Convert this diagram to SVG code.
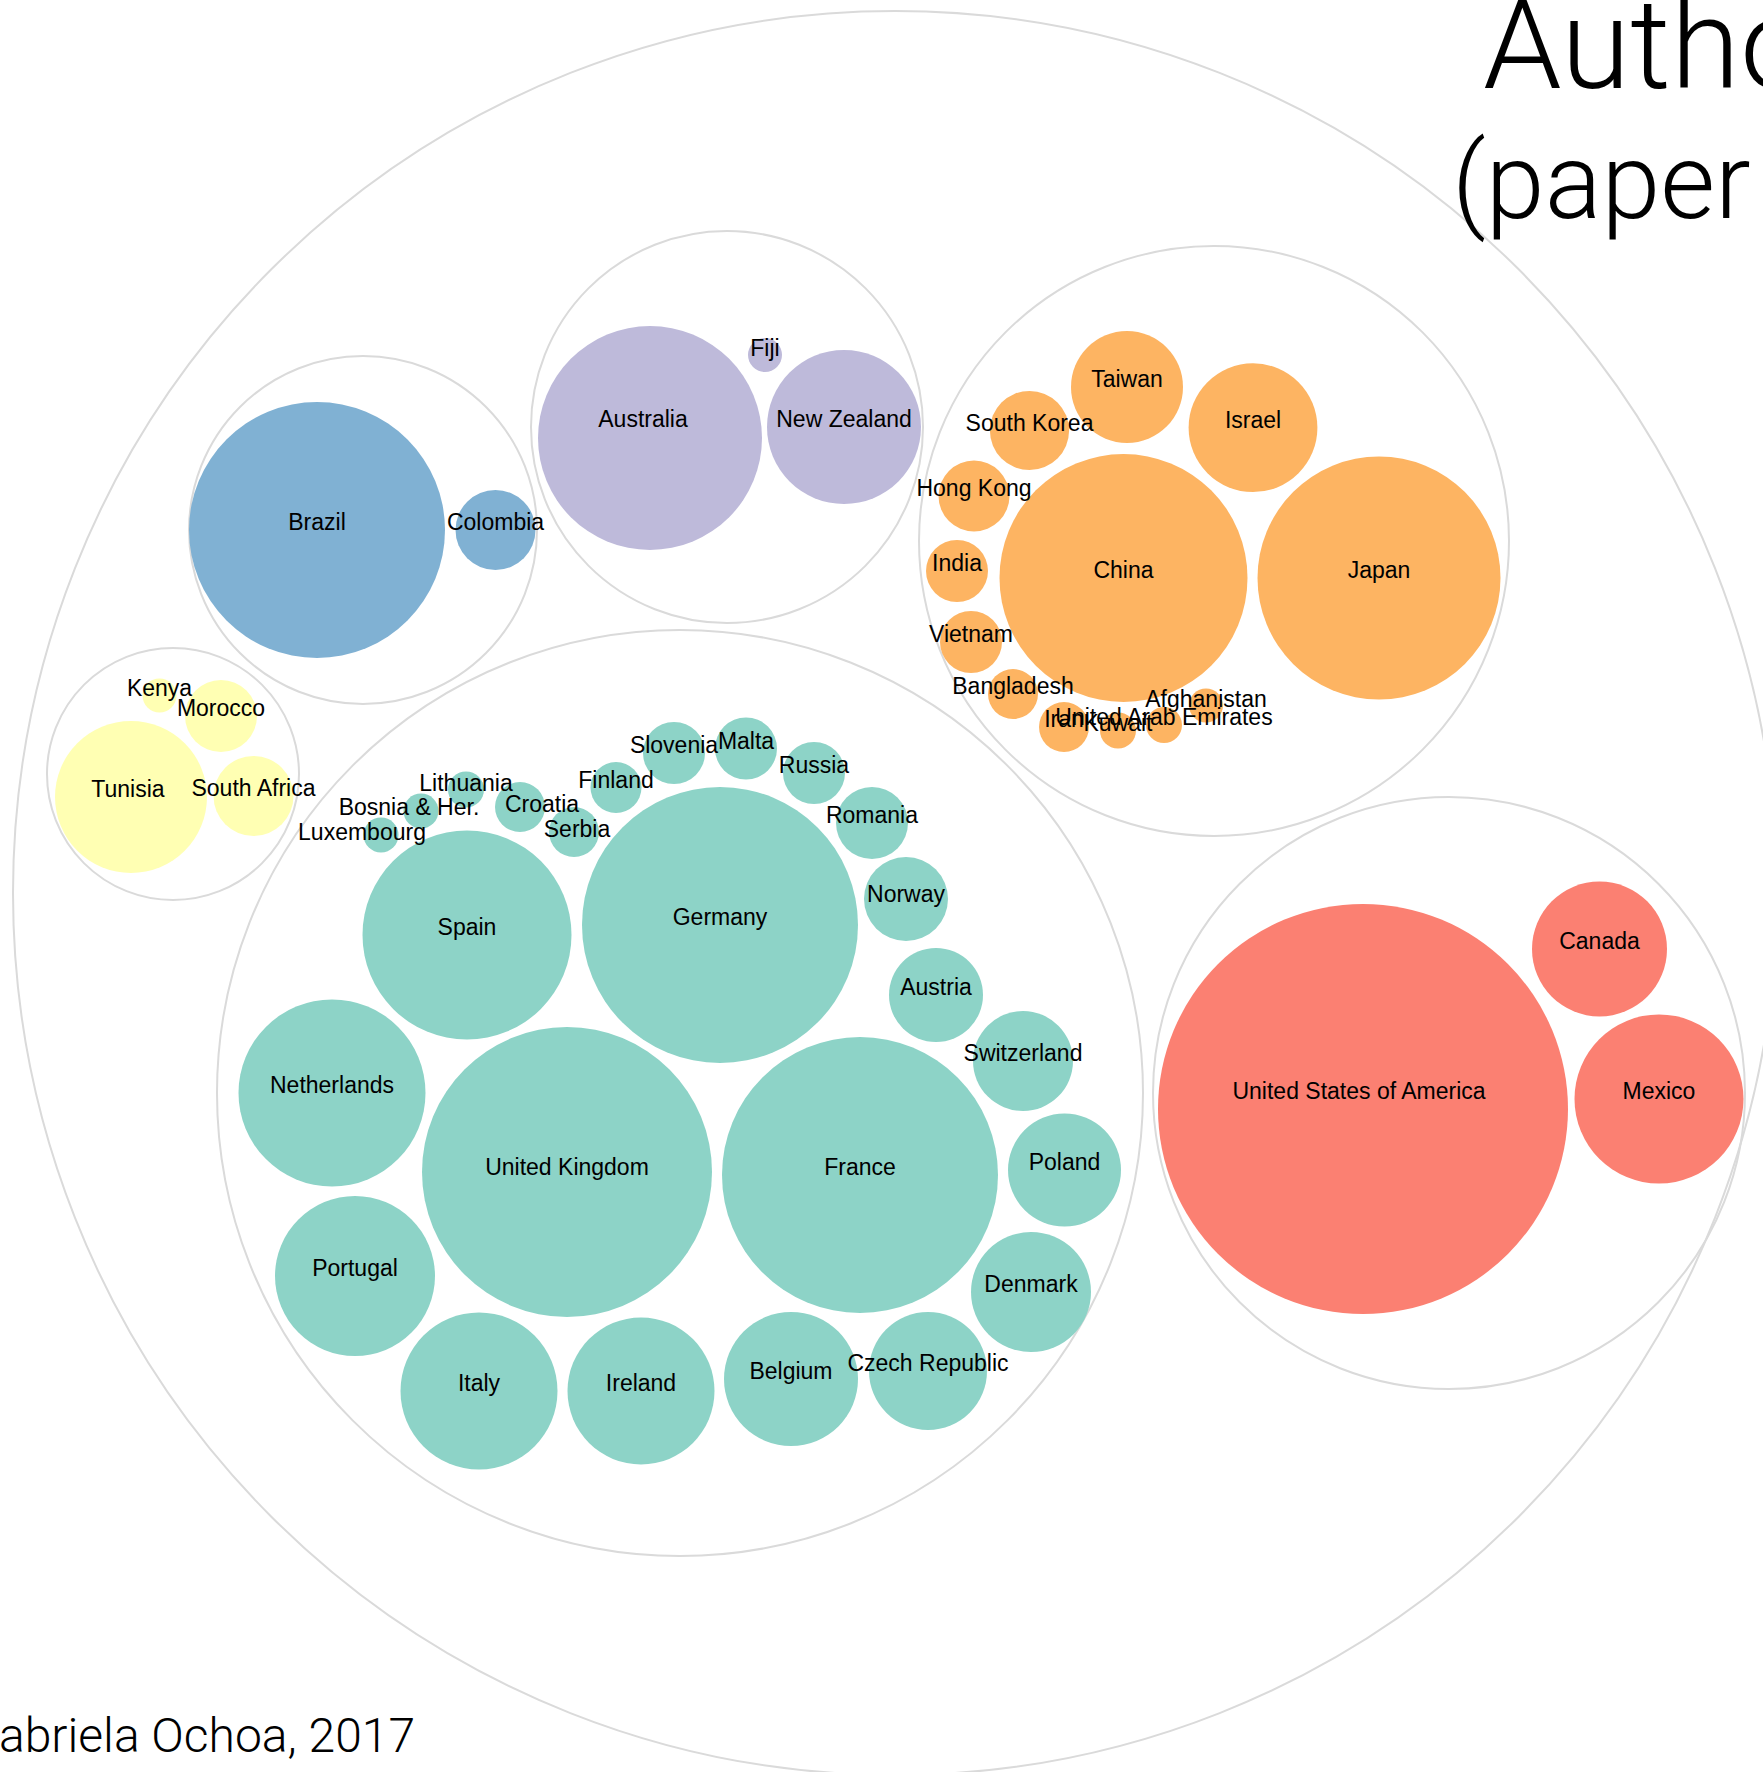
<svg xmlns="http://www.w3.org/2000/svg" width="1763" height="1772" viewBox="0 0 1763 1772">
<style>
.bg{fill:#ffffff}
.grp{fill:none;stroke:#dadada;stroke-width:2}
.eu{fill:#8dd3c7}
.as{fill:#fdb462}
.oc{fill:#bebada}
.sa{fill:#80b1d3}
.af{fill:#ffffb3}
.na{fill:#fb8072}
.lbl{font-family:"Liberation Sans",Arial,sans-serif;font-size:23px;fill:#000;text-anchor:middle}
.title{font-family:Roboto,"Liberation Sans",sans-serif;font-weight:300;fill:#000}
</style>
<rect class="bg" x="0" y="0" width="1763" height="1772"/>
<g id="groups">
<circle id="world" class="grp" cx="895" cy="893" r="882"/>
<circle id="group-south-america" class="grp" cx="363" cy="530" r="174"/>
<circle id="group-oceania" class="grp" cx="727" cy="427" r="196"/>
<circle id="group-asia" class="grp" cx="1214" cy="541" r="295"/>
<circle id="group-africa" class="grp" cx="173" cy="774" r="126"/>
<circle id="group-europe" class="grp" cx="680" cy="1093" r="463"/>
<circle id="group-north-america" class="grp" cx="1449" cy="1093" r="296"/>
</g>
<g id="nodes">
<g id="node-brazil"><circle class="sa" cx="317" cy="530" r="128"/></g>
<g id="node-colombia"><circle class="sa" cx="495.5" cy="530" r="40"/></g>
<g id="node-australia"><circle class="oc" cx="650" cy="438" r="112"/></g>
<g id="node-new-zealand"><circle class="oc" cx="844" cy="427" r="77"/></g>
<g id="node-fiji"><circle class="oc" cx="765" cy="355" r="17"/></g>
<g id="node-taiwan"><circle class="as" cx="1127" cy="387" r="56"/></g>
<g id="node-south-korea"><circle class="as" cx="1029.5" cy="430.5" r="39.6"/></g>
<g id="node-israel"><circle class="as" cx="1253" cy="427.7" r="64.4"/></g>
<g id="node-hong-kong"><circle class="as" cx="974" cy="496" r="35.5"/></g>
<g id="node-china"><circle class="as" cx="1123.5" cy="578" r="124"/></g>
<g id="node-japan"><circle class="as" cx="1379" cy="578" r="121.5"/></g>
<g id="node-india"><circle class="as" cx="957" cy="571" r="31"/></g>
<g id="node-vietnam"><circle class="as" cx="971" cy="642" r="31"/></g>
<g id="node-bangladesh"><circle class="as" cx="1013" cy="694" r="25"/></g>
<g id="node-iran"><circle class="as" cx="1064" cy="727" r="25"/></g>
<g id="node-kuwait"><circle class="as" cx="1118" cy="730.5" r="18"/></g>
<g id="node-uae"><circle class="as" cx="1164" cy="725" r="18"/></g>
<g id="node-afghanistan"><circle class="as" cx="1206" cy="705.5" r="17"/></g>
<g id="node-tunisia"><circle class="af" cx="131" cy="797" r="76"/></g>
<g id="node-south-africa"><circle class="af" cx="253.5" cy="796" r="40"/></g>
<g id="node-morocco"><circle class="af" cx="221" cy="716" r="36"/></g>
<g id="node-kenya"><circle class="af" cx="159.5" cy="695.5" r="17"/></g>
<g id="node-germany"><circle class="eu" cx="720" cy="925" r="138"/></g>
<g id="node-spain"><circle class="eu" cx="467" cy="935" r="104.5"/></g>
<g id="node-united-kingdom"><circle class="eu" cx="567" cy="1172" r="145"/></g>
<g id="node-france"><circle class="eu" cx="860" cy="1175" r="138"/></g>
<g id="node-netherlands"><circle class="eu" cx="332" cy="1093" r="93.5"/></g>
<g id="node-portugal"><circle class="eu" cx="355" cy="1276" r="80"/></g>
<g id="node-italy"><circle class="eu" cx="479" cy="1391" r="78.5"/></g>
<g id="node-ireland"><circle class="eu" cx="641" cy="1391" r="73.5"/></g>
<g id="node-belgium"><circle class="eu" cx="791" cy="1379" r="67"/></g>
<g id="node-czech-republic"><circle class="eu" cx="928" cy="1371" r="59"/></g>
<g id="node-denmark"><circle class="eu" cx="1031" cy="1292" r="60"/></g>
<g id="node-poland"><circle class="eu" cx="1064.5" cy="1170" r="56.5"/></g>
<g id="node-switzerland"><circle class="eu" cx="1023" cy="1061" r="50"/></g>
<g id="node-austria"><circle class="eu" cx="936" cy="995" r="47"/></g>
<g id="node-norway"><circle class="eu" cx="906" cy="899" r="42"/></g>
<g id="node-romania"><circle class="eu" cx="872" cy="823" r="36"/></g>
<g id="node-russia"><circle class="eu" cx="814" cy="773" r="31"/></g>
<g id="node-malta"><circle class="eu" cx="746" cy="748.5" r="31"/></g>
<g id="node-slovenia"><circle class="eu" cx="674" cy="753" r="31"/></g>
<g id="node-finland"><circle class="eu" cx="616" cy="787.5" r="25.5"/></g>
<g id="node-croatia"><circle class="eu" cx="520" cy="807" r="25"/></g>
<g id="node-serbia"><circle class="eu" cx="574" cy="832" r="25"/></g>
<g id="node-lithuania"><circle class="eu" cx="466" cy="789.5" r="18"/></g>
<g id="node-bosnia"><circle class="eu" cx="421" cy="811" r="17.5"/></g>
<g id="node-luxembourg"><circle class="eu" cx="381" cy="835" r="17.5"/></g>
<g id="node-usa"><circle class="na" cx="1363" cy="1109" r="205"/></g>
<g id="node-canada"><circle class="na" cx="1599.5" cy="949" r="67.5"/></g>
<g id="node-mexico"><circle class="na" cx="1659" cy="1099" r="84.5"/></g>
</g>
<g id="labels">
<text class="lbl" x="317" y="530">Brazil</text>
<text class="lbl" x="495.5" y="530">Colombia</text>
<text class="lbl" x="643" y="427">Australia</text>
<text class="lbl" x="844" y="427">New Zealand</text>
<text class="lbl" x="765" y="356">Fiji</text>
<text class="lbl" x="1127" y="387">Taiwan</text>
<text class="lbl" x="1029.5" y="430.5">South Korea</text>
<text class="lbl" x="1253" y="427.7">Israel</text>
<text class="lbl" x="974" y="496">Hong Kong</text>
<text class="lbl" x="1123.5" y="578">China</text>
<text class="lbl" x="1379" y="578">Japan</text>
<text class="lbl" x="957" y="571">India</text>
<text class="lbl" x="971" y="642">Vietnam</text>
<text class="lbl" x="1013" y="694">Bangladesh</text>
<text class="lbl" x="1206" y="707">Afghanistan</text>
<text class="lbl" x="1064" y="727">Iran</text>
<text class="lbl" x="1164" y="725">United Arab Emirates</text>
<text class="lbl" x="1118" y="730.5">Kuwait</text>
<text class="lbl" x="128" y="797">Tunisia</text>
<text class="lbl" x="253.5" y="796">South Africa</text>
<text class="lbl" x="159.5" y="695.5">Kenya</text>
<text class="lbl" x="221" y="716">Morocco</text>
<text class="lbl" x="720" y="925">Germany</text>
<text class="lbl" x="467" y="935">Spain</text>
<text class="lbl" x="567" y="1175">United Kingdom</text>
<text class="lbl" x="860" y="1175">France</text>
<text class="lbl" x="332" y="1093">Netherlands</text>
<text class="lbl" x="355" y="1276">Portugal</text>
<text class="lbl" x="479" y="1391">Italy</text>
<text class="lbl" x="641" y="1391">Ireland</text>
<text class="lbl" x="791" y="1379">Belgium</text>
<text class="lbl" x="928" y="1371">Czech Republic</text>
<text class="lbl" x="1031" y="1292">Denmark</text>
<text class="lbl" x="1064.5" y="1170">Poland</text>
<text class="lbl" x="1023" y="1061">Switzerland</text>
<text class="lbl" x="936" y="995">Austria</text>
<text class="lbl" x="906" y="902">Norway</text>
<text class="lbl" x="872" y="823">Romania</text>
<text class="lbl" x="814" y="773">Russia</text>
<text class="lbl" x="674" y="753">Slovenia</text>
<text class="lbl" x="746" y="748.5">Malta</text>
<text class="lbl" x="616" y="787.5">Finland</text>
<text class="lbl" x="577" y="837">Serbia</text>
<text class="lbl" x="542" y="812">Croatia</text>
<text class="lbl" x="466" y="791">Lithuania</text>
<text class="lbl" x="409" y="815">Bosnia &amp; Her.</text>
<text class="lbl" x="362" y="840">Luxembourg</text>
<text class="lbl" x="1359" y="1099">United States of America</text>
<text class="lbl" x="1599.5" y="949">Canada</text>
<text class="lbl" x="1659" y="1099">Mexico</text>
</g>
<g id="titles">
<text class="title" x="1483" y="88" font-size="126">Autho</text>
<text class="title" x="1452" y="218" font-size="106">(paper</text>
<text class="title" x="415" y="1752" font-size="48" text-anchor="end">abriela Ochoa, 2017</text>
</g>
</svg>
